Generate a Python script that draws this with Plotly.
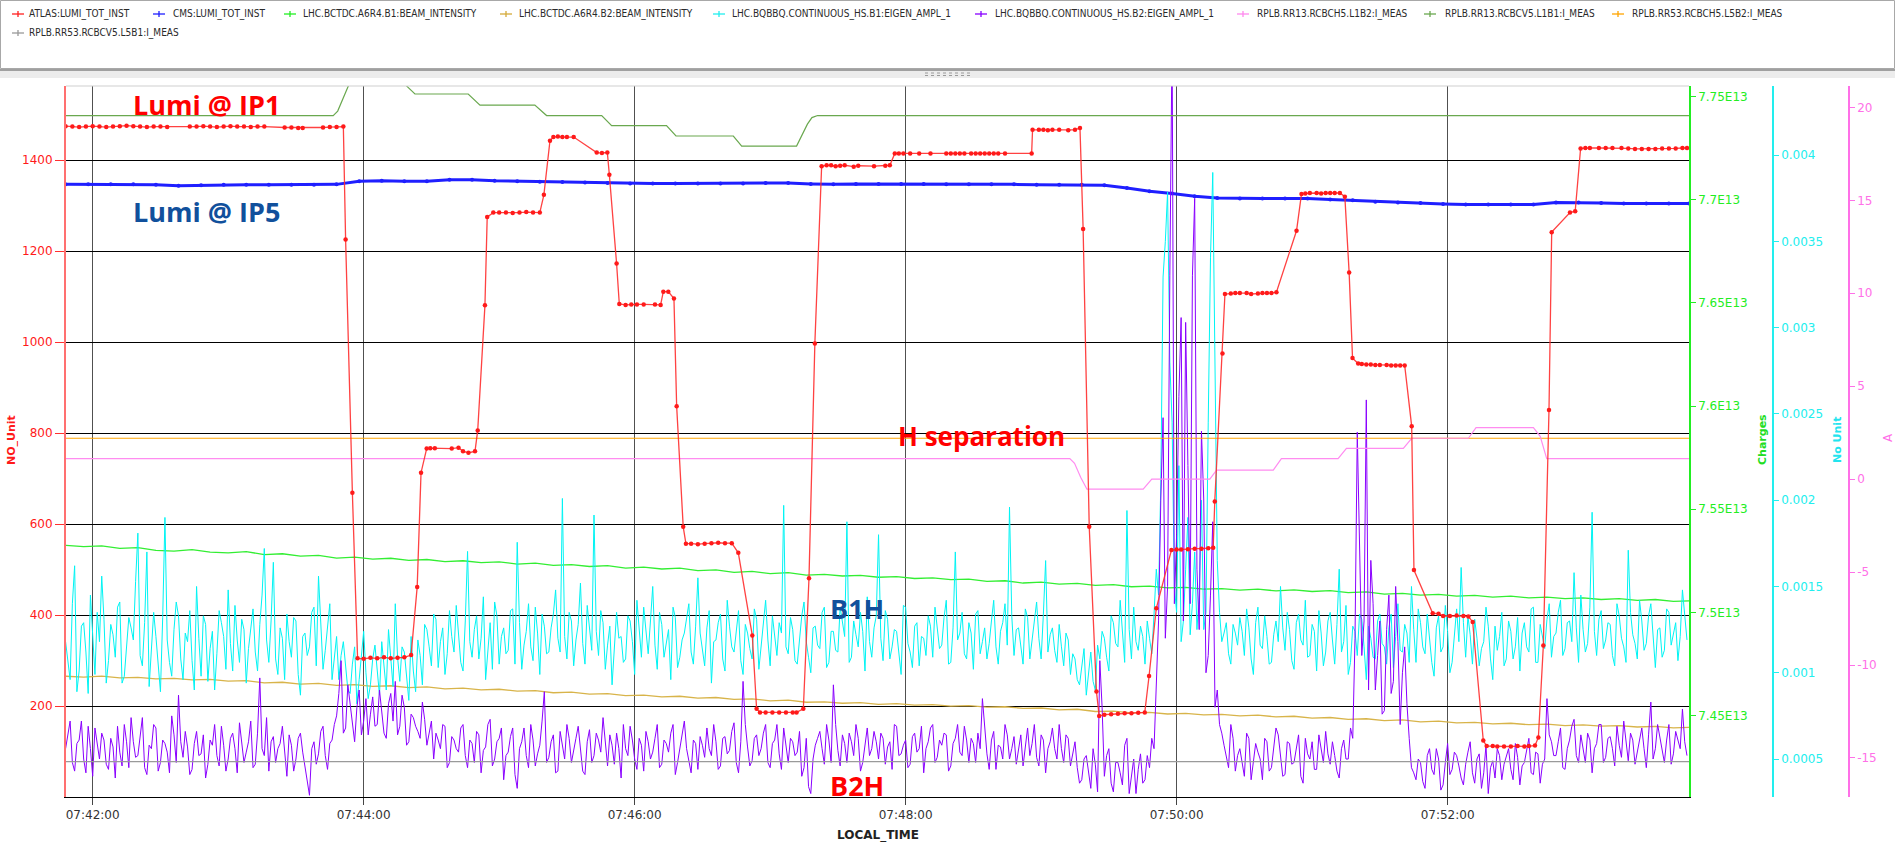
import numpy as np
import pandas as pd
import plotly.graph_objects as go

# ---------------------------------------------------------------- data
# time offsets are seconds relative to 07:42:00 local time
BASE = pd.Timestamp("2016-05-20 07:42:00")

ATLAS_LUMI = [
    (-12, 1475), (-9, 1474), (-6, 1473), (-3, 1474), (0, 1475), (3, 1474), (6, 1473), (9, 1474),
    (12, 1475), (15, 1476), (18, 1475), (21, 1474), (24, 1473), (27, 1474), (30, 1474), (33, 1473),
    (43, 1474), (46, 1474), (49, 1475), (52, 1474), (55, 1473), (58, 1474), (61, 1475), (64, 1474),
    (67, 1474), (70, 1473), (73, 1474), (76, 1474), (85, 1472), (88, 1472), (91, 1471), (93, 1471),
    (102, 1472), (105, 1473), (108, 1473), (111, 1474),
    (112, 1226), (115, 669), (117.3, 305), (120, 304), (123, 306), (126, 305), (129, 307), (132, 305),
    (135, 306), (138, 307), (141, 312),
    (143.7, 462), (145.4, 713), (147.9, 766), (149.5, 767), (151.5, 767), (159, 766), (162, 768),
    (164, 760), (166.4, 757), (169.3, 760),
    (170.5, 806), (173.7, 1081), (174.7, 1275), (177.4, 1285), (180, 1285), (183, 1285), (186, 1284),
    (189, 1285), (192, 1286), (195, 1285), (198, 1285),
    (199.8, 1324), (202.5, 1443), (204, 1451), (206, 1452), (208, 1451), (210, 1451), (213, 1451),
    (223.2, 1417), (225.5, 1416), (227.9, 1417),
    (228.8, 1368), (232, 1173), (233.2, 1084), (236, 1082), (238.5, 1083), (241, 1083), (244, 1083),
    (249, 1083), (251.5, 1082),
    (252.7, 1111), (254.9, 1111), (257.4, 1096), (258.6, 859), (261.5, 594), (262.7, 557), (265, 557),
    (268, 556), (271, 557), (274, 558), (277, 559), (280, 558), (283, 558),
    (285.9, 537), (292.1, 355), (294, 194), (295.5, 186), (298, 186), (301, 186), (304, 186),
    (307, 186), (310, 186), (311.7, 186),
    (314.7, 194), (317.2, 481), (319.8, 997), (322.8, 1387), (325, 1389), (327, 1389), (329, 1387),
    (331, 1388), (333, 1389), (337, 1386), (339, 1388), (346, 1387), (351, 1388), (353, 1389),
    (355.2, 1415), (357, 1415), (359, 1415), (362, 1415), (366, 1415), (371, 1415), (378, 1415),
    (380, 1415), (382, 1415), (384, 1415), (386, 1415), (389, 1415), (391, 1415), (393, 1415),
    (395, 1415), (397, 1415), (399, 1415), (401, 1415), (404, 1415), (415.8, 1415),
    (416.2, 1467), (419, 1467), (421, 1467), (423, 1466), (425, 1467), (428, 1467), (432, 1466),
    (435, 1467), (437.2, 1471),
    (438.6, 1249), (441.3, 594), (444.5, 232), (445.7, 178), (448, 181), (451, 182), (454, 183),
    (457, 184), (460, 184), (463, 185), (465.9, 186),
    (467.8, 266), (471, 415), (477.7, 543), (480, 544), (482, 544), (485, 545), (488, 546),
    (491, 546), (494, 547), (496.2, 548),
    (496.9, 650), (500.3, 975), (501.4, 1106), (504, 1107), (506, 1108), (508, 1108), (511, 1108),
    (513, 1106), (516, 1107), (518, 1108), (520, 1108), (522, 1108), (524.2, 1110),
    (533.1, 1245), (535.3, 1326), (537, 1327), (539, 1328), (542, 1328), (544, 1327), (546, 1328),
    (548, 1328), (550, 1328), (552.3, 1328),
    (554.5, 1320), (556.4, 1153), (557.9, 965), (560.4, 953), (562, 952), (564, 951), (566, 951),
    (568, 950), (570, 950), (573, 950), (575, 949), (577, 949), (579, 949), (581, 949),
    (584.1, 815), (585.1, 499), (593.4, 404), (596, 403), (598, 398), (601, 398), (604, 399),
    (607, 398), (609.2, 397),
    (611.1, 385), (615.8, 124), (617.3, 112), (620, 112), (622, 111), (625, 111), (628, 111),
    (631, 112), (634, 111), (636, 112), (638.7, 113),
    (640.2, 131), (642.4, 333), (644.9, 851), (646.1, 1242), (654.2, 1285), (656.5, 1288),
    (658.9, 1426), (661, 1427), (663, 1427), (667, 1427), (670, 1427), (673, 1427), (677, 1427),
    (680, 1426), (683, 1425), (686, 1425), (689, 1425), (692, 1425), (695, 1426), (698, 1426),
    (701, 1426), (704, 1427), (706, 1427),
]

CMS_LUMI = [
    (-12, 1347), (-2, 1347), (8, 1347), (18, 1347), (28, 1346), (38, 1344), (48, 1345), (58, 1346),
    (68, 1346), (78, 1346), (88, 1346), (98, 1346), (108, 1347), (118, 1354), (128, 1355),
    (138, 1354), (148, 1354), (158, 1357), (168, 1357), (178, 1355), (188, 1354), (198, 1353),
    (208, 1352), (218, 1351), (228, 1350), (238, 1349), (248, 1349), (258, 1349), (268, 1349),
    (278, 1349), (288, 1349), (298, 1350), (308, 1350), (318, 1348), (328, 1347), (338, 1348),
    (348, 1348), (358, 1348), (368, 1348), (378, 1347), (388, 1347), (398, 1347), (408, 1347),
    (418, 1346), (428, 1346), (438, 1346), (448, 1345), (458, 1339), (468, 1332), (478, 1327),
    (488, 1321), (498, 1317), (508, 1316), (518, 1316), (528, 1316), (538, 1316), (548, 1314),
    (558, 1312), (568, 1309), (578, 1307), (588, 1306), (598, 1304), (608, 1303), (618, 1303),
    (628, 1303), (638, 1303), (648, 1307), (658, 1307), (668, 1306), (678, 1305), (688, 1305),
    (698, 1305), (707, 1305),
]

# beam intensities, sampled every 8 s from -12 s, in units of 1E13 charges
INTENSITY_T0, INTENSITY_DT = -12, 8
B1_INTENSITY_E13 = [
    7.5325, 7.5318, 7.5322, 7.5310, 7.5314, 7.5300, 7.5297, 7.5304, 7.5292, 7.5288, 7.5294, 7.5280,
    7.5284, 7.5272, 7.5276, 7.5263, 7.5268, 7.5258, 7.5262, 7.5252, 7.5256, 7.5246, 7.5250, 7.5241,
    7.5245, 7.5234, 7.5238, 7.5228, 7.5231, 7.5222, 7.5226, 7.5214, 7.5219, 7.5210, 7.5214, 7.5202,
    7.5206, 7.5194, 7.5198, 7.5188, 7.5192, 7.5180, 7.5184, 7.5176, 7.5179, 7.5170, 7.5173, 7.5164,
    7.5167, 7.5158, 7.5161, 7.5150, 7.5153, 7.5142, 7.5146, 7.5137, 7.5140, 7.5131, 7.5134, 7.5124,
    7.5127, 7.5118, 7.5121, 7.5112, 7.5115, 7.5108, 7.5112, 7.5104, 7.5109, 7.5101, 7.5105, 7.5095,
    7.5099, 7.5088, 7.5092, 7.5083, 7.5087, 7.5078, 7.5082, 7.5074, 7.5078, 7.5070, 7.5074, 7.5066,
    7.5070, 7.5062, 7.5066, 7.5058, 7.5062, 7.5053, 7.5056,
]
B2_INTENSITY_E13 = [
    7.4690, 7.4686, 7.4691, 7.4682, 7.4685, 7.4677, 7.4680, 7.4672, 7.4675, 7.4666, 7.4669, 7.4658,
    7.4661, 7.4652, 7.4655, 7.4646, 7.4649, 7.4641, 7.4644, 7.4635, 7.4638, 7.4629, 7.4632, 7.4624,
    7.4627, 7.4618, 7.4620, 7.4610, 7.4613, 7.4603, 7.4606, 7.4596, 7.4598, 7.4590, 7.4593, 7.4584,
    7.4587, 7.4578, 7.4580, 7.4571, 7.4574, 7.4564, 7.4566, 7.4559, 7.4562, 7.4554, 7.4557, 7.4550,
    7.4552, 7.4545, 7.4548, 7.4540, 7.4542, 7.4534, 7.4536, 7.4527, 7.4530, 7.4519, 7.4521, 7.4512,
    7.4515, 7.4507, 7.4510, 7.4503, 7.4505, 7.4498, 7.4501, 7.4493, 7.4496, 7.4487, 7.4490, 7.4481,
    7.4484, 7.4475, 7.4478, 7.4469, 7.4472, 7.4464, 7.4466, 7.4459, 7.4462, 7.4455, 7.4458, 7.4451,
    7.4454, 7.4448, 7.4451, 7.4444, 7.4447, 7.4440, 7.4442,
]

# BBQ eigen-amplitudes in units of 1E-6: even seconds from -12 s, odd seconds from -11 s
BBQ_T0 = -12
B1H_AMPL_EVEN_U = [
    1180, 960, 1620, 1010, 1290, 880, 1230, 1350, 1560, 940,
    1280, 1090, 1410, 980, 1320, 1190, 1809, 1040, 1700, 1120,
    1210, 890, 1900, 1060, 1250, 1330, 960, 1180, 1070, 1500,
    980, 1280, 1140, 900, 1360, 1210, 1480, 1010, 1190, 1310,
    940, 1250, 1120, 1280, 1720, 1060, 1640, 990, 1200, 1340,
    1090, 1300, 870, 1230, 1150, 1380, 1560, 1020, 1270, 960,
    1210, 1100, 1030, 880, 1150, 960, 1240, 850, 1080, 990,
    1180, 900, 1060, 1400, 950, 1120, 840, 1010, 1190, 930,
    1250, 1040, 1310, 1180, 990, 1360, 1120, 1230, 1010, 1703,
    1090, 1330, 1200, 960, 1290, 1410, 1050, 1260, 1130, 1370,
    1756, 1020, 1240, 1150, 1380, 990, 1270, 1120, 1340, 1200,
    2010, 1080, 1300, 1190, 1520, 1050, 1250, 1914, 1100, 1290,
    1160, 930, 1350, 1210, 1080, 1300, 990, 1240, 1380, 1110,
    1500, 1020, 1280, 1170, 960, 1320, 1090, 1230, 1400, 1050,
    1550, 1130, 1260, 940, 1190, 1340, 1010, 1270, 1120, 1360,
    990, 1230, 1080, 1310, 1150, 1420, 1040, 1200, 1290, 1970,
    1110, 1250, 1050, 1330, 1180, 1000, 1270, 1140, 1380, 1060,
    1240, 1120, 1300, 1875, 1090, 1220, 1350, 1010, 1180, 1260,
    1800, 1070, 1310, 1150, 1240, 990, 1380, 1120, 1270, 1040,
    1200, 1330, 1090, 1250, 1160, 1420, 1060, 1700, 1230, 1110,
    1290, 1020, 1360, 1180, 1080, 1300, 1150, 1240, 1400, 1960,
    1100, 1260, 1050, 1320, 1190, 1410, 1080, 1650, 1220, 1130,
    1280, 1040, 1190, 1110, 960, 1050, 870, 1120, 900, 1080,
    1200, 1010, 1290, 1150, 1230, 1940, 1080, 1180, 1270, 1050,
    1200, 1340, 1450, 3293, 3786, 2452, 1350, 1180, 1600, 1220,
    1700, 1450, 1250, 2452, 3899, 1650, 1180, 1290, 1050, 1230,
    1320, 1100, 1260, 990, 1380, 1140, 1210, 1060, 1300, 1500,
    1130, 1250, 1020, 1340, 1160, 1090, 1280, 1010, 1230, 1120,
    1350, 1050, 1600, 1180, 990, 1270, 1100, 1310, 960, 1200,
    1080, 1340, 1150, 1260, 1030, 1400, 1120, 1230, 1500, 1060,
    1290, 1110, 1200, 980, 1330, 1150, 1240, 1060, 1370, 1610,
    1090, 1220, 1310, 1040, 1180, 1270, 960, 1130, 1350, 1080,
    1240, 1150, 1010, 1290, 1120, 1380, 1060, 1200, 1310, 1090,
    1230, 1420, 1140, 1300, 1580, 1060, 1250, 1170, 1930, 1100,
    1360, 1190, 1280, 1040, 1330, 1150, 1710, 1220, 1080, 1300,
    1170, 1400, 1030, 1260, 1130, 1350, 1220, 1070, 1480, 1190,
]
B1H_AMPL_ODD_U = [
    1050, 1400, 890, 1270, 1120, 1450, 990, 1180, 1310, 1070,
    1220, 1380, 940, 1150, 1260, 1530, 1100, 1290, 920, 1350,
    1040, 1320, 1190, 980, 1410, 1080, 1230, 1360, 900, 1200,
    1330, 950, 1240, 1110, 1290, 1020, 1170, 1390, 1060, 1250,
    1140, 1370, 1010, 1450, 1190, 1300, 1080, 1260, 960, 1180,
    1320, 990, 1210, 1100, 1350, 1040, 1240, 1130, 1400, 1070,
    960, 1180, 900, 1050, 820, 1120, 1000, 930, 1160, 870,
    1040, 1250, 920, 1090, 1150, 980, 1210, 890, 1100, 1280,
    1150, 1340, 1030, 1260, 1110, 1210, 1390, 1060, 1300, 1180,
    1250, 1080, 1440, 1150, 1020, 1330, 1210, 1110, 1360, 1050,
    1290, 1160, 1400, 1070, 1230, 1340, 1110, 1260, 1480, 1120,
    1210, 1350, 1040, 1280, 1170, 1390, 1130, 1240, 1360, 1020,
    1270, 1130, 1200, 1060, 1330, 1180, 1420, 1090, 1240, 1300,
    1160, 1350, 1090, 1250, 1380, 1030, 1190, 1320, 1120, 1270,
    1230, 1040, 1360, 1180, 1290, 1080, 1420, 1150, 1250, 1070,
    1280, 1140, 1370, 1020, 1260, 1190, 1330, 1100, 1230, 1150,
    1320, 1070, 1200, 1410, 1090, 1260, 1160, 1350, 1030, 1240,
    1130, 1380, 1210, 1060, 1300, 1150, 1240, 1440, 1090, 1330,
    1200, 1360, 1080, 1250, 1120, 1390, 1170, 1030, 1290, 1210,
    1100, 1270, 1380, 1140, 1320, 1050, 1260, 1190, 1350, 1080,
    1230, 1340, 1110, 1260, 1170, 1420, 1050, 1290, 1160, 1330,
    1250, 1140, 1370, 1080, 1280, 1200, 1340, 1120, 1260, 1060,
    1150, 1230, 990, 1080, 930, 1140, 1010, 950, 1160, 1240,
    1090, 1330, 1170, 1420, 1060, 1250, 1380, 1130, 1210, 1300,
    1110, 1600, 2100, 3500, 2800, 1500, 2200, 1300, 1900, 1400,
    1250, 2000, 1350, 3404, 2600, 1350, 1230, 1110, 1280, 1160,
    1240, 1370, 1080, 1290, 1160, 1330, 1050, 1220, 1180, 1260,
    1350, 1070, 1290, 1190, 1420, 1100, 1240, 1360, 1040, 1300,
    1190, 1280, 1120, 1390, 1060, 1240, 1340, 1150, 1270, 1090,
    1300, 1170, 1050, 1340, 1210, 1130, 1280, 1060, 1250, 1370,
    1150, 1340, 1060, 1260, 1120, 1390, 1000, 1230, 1180, 1290,
    1330, 1050, 1200, 1140, 1380, 1080, 1270, 1210, 1040, 1300,
    1080, 1320, 1230, 1150, 1370, 1060, 1280, 1140, 1400, 1210,
    1350, 1100, 1290, 1180, 1260, 1450, 1120, 1380, 1240, 1310,
    1140, 1290, 1100, 1400, 1200, 1060, 1350, 1170, 1420, 1130,
    1330, 1180, 1250, 1090, 1370, 1160, 1290, 1210, 1340,
]
B2H_AMPL_EVEN_U = [
    560, 720, 430, 610, 500, 690, 400, 580, 650, 470,
    620, 390, 540, 700, 450, 600, 520, 740, 410, 560,
    680, 480, 590, 420, 640, 870, 510, 570, 440, 660,
    530, 390, 610, 700, 460, 580, 500, 650, 420, 600,
    540, 720, 470, 970, 520, 430, 630, 560, 690, 400,
    580, 500, 650, 450, 290, 600, 530, 690, 440, 610,
    750, 1070, 680, 820, 600, 900, 720, 640, 860, 700,
    780, 620, 880, 950, 690, 800, 600, 740, 660, 830,
    580, 720, 650, 560, 690, 480, 610, 540, 700, 450,
    590, 660, 420, 570, 730, 500, 620, 380, 540, 680,
    330, 600, 520, 700, 460, 580, 890, 510, 640, 430,
    590, 700, 480, 620, 550, 410, 670, 520, 610, 740,
    460, 580, 650, 390, 560, 690, 500, 620, 430, 600,
    540, 700, 470, 590, 650, 410, 560, 720, 500, 610,
    440, 580, 680, 520, 600, 460, 630, 550, 710, 420,
    950, 570, 490, 640, 560, 700, 450, 610, 530, 680,
    480, 600, 540, 400, 620, 300, 580, 660, 470, 610,
    930, 550, 640, 480, 600, 700, 430, 580, 520, 660,
    500, 620, 570, 440, 690, 530, 610, 470, 650, 560,
    420, 600, 700, 510, 580, 640, 460, 620, 540, 690,
    480, 590, 650, 850, 530, 610, 440, 570, 700, 500,
    630, 550, 460, 680, 590, 510, 640, 420, 600, 560,
    700, 480, 620, 530, 450, 380, 520, 330, 470, 1070,
    400, 560, 310, 480, 350, 620, 420, 300, 530, 380,
    450, 560, 1300, 2478, 1500, 4700, 1800, 3058, 3030, 1400,
    3749, 1250, 2007, 1100, 1875, 900, 650, 520, 700, 430,
    560, 400, 620, 470, 540, 380, 600, 450, 680, 520,
    410, 590, 480, 640, 360, 530, 600, 440, 570, 660,
    470, 520, 390, 610, 500, 620, 2394, 1100, 2581, 1651,
    900, 1300, 780, 1450, 950, 1180, 1000, 820, 450, 380,
    480, 330, 560, 410, 500, 350, 590, 440, 520, 390,
    470, 600, 360, 530, 420, 300, 490, 560, 380, 510,
    440, 590, 350, 480, 620, 410, 530, 470, 850, 600,
    520, 680, 440, 610, 730, 480, 570, 650, 420, 590,
    700, 510, 630, 460, 580, 720, 490, 610, 540, 680,
    450, 830, 560, 620, 480, 700, 530, 600, 790, 520,
]
B2H_AMPL_ODD_U = [
    640, 480, 590, 720, 420, 560, 680, 500, 610, 440,
    570, 690, 460, 600, 740, 510, 630, 450, 580, 700,
    430, 610, 540, 750, 480, 600, 660, 410, 590, 520,
    640, 470, 580, 520, 690, 430, 620, 560, 710, 480,
    600, 450, 650, 560, 740, 600, 480, 590, 520, 640,
    430, 620, 540, 380, 560, 470, 660, 520, 590, 700,
    880, 650, 930, 720, 800, 640, 850, 760, 690, 900,
    650, 820, 720, 640, 870, 580, 760, 690, 620, 730,
    650, 500, 610, 700, 450, 630, 560, 680, 520, 610,
    480, 640, 550, 700, 460, 600, 680, 520, 630, 410,
    560, 680, 450, 610, 530, 720, 480, 600, 420, 660,
    500, 620, 560, 690, 430, 600, 480, 650, 540, 580,
    640, 470, 560, 700, 520, 610, 440, 580, 660, 500,
    620, 450, 610, 540, 700, 480, 650, 560, 420, 590,
    630, 510, 560, 700, 440, 620, 530, 660, 480, 600,
    700, 460, 620, 520, 650, 480, 590, 700, 440, 570,
    620, 520, 660, 450, 340, 500, 620, 560, 700, 480,
    700, 460, 590, 650, 520, 620, 480, 680, 560, 600,
    650, 470, 600, 700, 520, 580, 450, 630, 540, 690,
    560, 680, 480, 610, 650, 430, 590, 700, 520, 610,
    620, 480, 560, 700, 440, 660, 580, 500, 640, 560,
    470, 640, 580, 520, 700, 460, 610, 560, 680, 500,
    560, 640, 460, 600, 360, 500, 420, 560, 310, 800,
    520, 360, 480, 420, 580, 300, 500, 440, 360, 520,
    620, 900, 2000, 1200, 3300, 1400, 2600, 1300, 2200, 3300,
    1600, 2400, 1000, 1450, 800, 700, 580, 450, 620, 520,
    480, 650, 380, 590, 500, 620, 430, 560, 640, 400,
    600, 470, 550, 400, 620, 500, 440, 640, 480, 530,
    600, 430, 560, 500, 680, 1200, 1800, 1300, 900, 1400,
    1100, 760, 1250, 880, 1500, 700, 1150, 620, 420, 500,
    370, 520, 440, 560, 320, 480, 410, 540, 460, 350,
    540, 420, 500, 330, 580, 450, 390, 520, 470, 560,
    380, 510, 460, 560, 420, 540, 360, 500, 640, 520,
    600, 450, 560, 690, 520, 640, 480, 610, 560, 700,
    480, 620, 560, 690, 510, 600, 650, 470, 620, 560,
    640, 500, 700, 540, 610, 470, 660, 560, 600,
]

# corrector currents in A
RR13_H_L1B2 = [
    (-12, 1.1), (432.7, 1.1), (434.8, 0.85), (437.5, 0.1), (440.3, -0.54), (465.2, -0.54),
    (469, 0.0), (494.7, 0.0), (497.7, 0.49), (522.8, 0.49), (526.4, 1.1), (551.5, 1.1),
    (555.2, 1.65), (580.4, 1.65), (584.1, 2.2), (609.2, 2.2), (612.6, 2.77), (638, 2.77),
    (641, 2.3), (643.9, 1.1), (707, 1.1),
]
RR13_V_L1B1 = [
    (-12, 19.56), (106.5, 19.56), (108.5, 19.8), (113.2, 21.15), (116, 21.6), (137, 21.6),
    (139, 21.15), (142.7, 20.72), (166.3, 20.72), (171.5, 20.12), (195.8, 20.12), (201, 19.56),
    (225.4, 19.56), (229.8, 19.02), (254.1, 19.02), (258.3, 18.46), (283.7, 18.46), (287.4, 17.92),
    (311.7, 17.92), (314, 18.45), (316.5, 19.1), (318.5, 19.45), (321, 19.56), (707, 19.56),
]
RR53_H_L5B2 = [(-12, 2.2), (707, 2.2)]
RR53_V_L5B1 = [(-12, -15.2), (707, -15.2)]

LEFT_TICKS = [200, 400, 600, 800, 1000, 1200, 1400]
CHARGE_TICKS = [7.45e13, 7.5e13, 7.55e13, 7.6e13, 7.65e13, 7.7e13, 7.75e13]
CHARGE_LABELS = ["7.45E13", "7.5E13", "7.55E13", "7.6E13", "7.65E13", "7.7E13", "7.75E13"]
AMPL_TICKS = [0.0005, 0.001, 0.0015, 0.002, 0.0025, 0.003, 0.0035, 0.004]
AMPL_LABELS = ["0.0005", "0.001", "0.0015", "0.002", "0.0025", "0.003", "0.0035", "0.004"]
AMP_TICKS = [-15, -10, -5, 0, 5, 10, 15, 20]
AMP_LABELS = ["-15", "-10", "-5", "0", "5", "10", "15", "20"]

LEGEND = [
    ("ATLAS:LUMI_TOT_INST", "#ff2020", 18, 27, 14),
    ("CMS:LUMI_TOT_INST", "#2020ff", 159, 171, 14),
    ("LHC.BCTDC.A6R4.B1:BEAM_INTENSITY", "#22ee22", 290, 301, 14),
    ("LHC.BCTDC.A6R4.B2:BEAM_INTENSITY", "#d4aa3a", 506, 517, 14),
    ("LHC.BQBBQ.CONTINUOUS_HS.B1:EIGEN_AMPL_1", "#22eeee", 719, 730, 14),
    ("LHC.BQBBQ.CONTINUOUS_HS.B2:EIGEN_AMPL_1", "#8800ff", 981, 993, 14),
    ("RPLB.RR13.RCBCH5.L1B2:I_MEAS", "#ff88ee", 1243, 1255, 14),
    ("RPLB.RR13.RCBCV5.L1B1:I_MEAS", "#6aa84f", 1430, 1443, 14),
    ("RPLB.RR53.RCBCH5.L5B2:I_MEAS", "#ffa500", 1618, 1630, 14),
    ("RPLB.RR53.RCBCV5.L5B1:I_MEAS", "#999999", 18, 27, 33),
]

# ---------------------------------------------------------------- helpers
def at(sec):
    return BASE + pd.to_timedelta(np.asarray(sec, dtype=float), unit="s")


def unzip(pairs):
    t, v = zip(*pairs)
    return at(t), list(v)


def merge_samples(even, odd, t0):
    """Interleave the even- and odd-second samples into one time-ordered series."""
    t = np.concatenate([t0 + 2 * np.arange(len(even)), t0 + 1 + 2 * np.arange(len(odd))])
    v = np.concatenate([np.asarray(even, float), np.asarray(odd, float)])
    order = np.argsort(t, kind="stable")
    return at(t[order]), v[order] * 1e-6


W, H = 1895, 842
ML, MR, MT, MB = 66, 30, 86, 45
PW = W - ML - MR
PH = H - MT - MB
X_END = 1689


def px(x):
    return (x - ML) / PW


def py(y):
    return (H - MB - y) / PH


TICK_FONT = "DejaVu Sans"
LEFT_RANGE = [0, 1563.3]

fig = go.Figure()

# CMS luminosity (left axis)
t, v = unzip(CMS_LUMI)
fig.add_trace(go.Scatter(x=t, y=v, yaxis="y", mode="lines+markers",
                         line=dict(color="#1f1fff", width=3),
                         marker=dict(size=4, color="#1f1fff"), name="CMS:LUMI_TOT_INST"))

# beam intensities (Charges axis)
ti = at(INTENSITY_T0 + INTENSITY_DT * np.arange(len(B1_INTENSITY_E13)))
fig.add_trace(go.Scatter(x=ti, y=np.array(B1_INTENSITY_E13) * 1e13, yaxis="y2", mode="lines",
                         line=dict(color="#33ee33", width=1.3), name="B1 intensity"))
ti = at(INTENSITY_T0 + INTENSITY_DT * np.arange(len(B2_INTENSITY_E13)))
fig.add_trace(go.Scatter(x=ti, y=np.array(B2_INTENSITY_E13) * 1e13, yaxis="y2", mode="lines",
                         line=dict(color="#d8b44a", width=1.3), name="B2 intensity"))

# BBQ amplitudes (No Unit axis)
tb, vb = merge_samples(B1H_AMPL_EVEN_U, B1H_AMPL_ODD_U, BBQ_T0)
fig.add_trace(go.Scatter(x=tb, y=vb, yaxis="y3", mode="lines",
                         line=dict(color="#00f4f4", width=1), name="B1H"))
tb, vb = merge_samples(B2H_AMPL_EVEN_U, B2H_AMPL_ODD_U, BBQ_T0)
fig.add_trace(go.Scatter(x=tb, y=vb, yaxis="y3", mode="lines",
                         line=dict(color="#8a00ff", width=1), name="B2H"))

# corrector currents (A axis)
for pairs, color in [(RR13_V_L1B1, "#6aa84f"), (RR53_H_L5B2, "#ffa500"),
                     (RR53_V_L5B1, "#9a9a9a"), (RR13_H_L1B2, "#ff8cf0")]:
    t, v = unzip(pairs)
    fig.add_trace(go.Scatter(x=t, y=v, yaxis="y4", mode="lines",
                             line=dict(color=color, width=1.2)))

# ATLAS luminosity drawn last so it stays on top
t, v = unzip(ATLAS_LUMI)
fig.add_trace(go.Scatter(x=t, y=v, yaxis="y5", mode="lines+markers",
                         line=dict(color="rgba(255,45,45,0.9)", width=1.3),
                         marker=dict(size=4.5, color="#ff1a1a"), name="ATLAS:LUMI_TOT_INST"))

tick_font = lambda c: dict(family=TICK_FONT, size=12, color=c)

fig.update_layout(
    width=W, height=H,
    margin=dict(l=ML, r=MR, t=MT, b=MB),
    paper_bgcolor="white", plot_bgcolor="white",
    showlegend=False,
    xaxis=dict(
        domain=[0, px(X_END)], type="date",
        range=[at(-11.82).isoformat(), at(706.9).isoformat()],
        tick0=at(0).isoformat(), dtick=120000, tickformat="%H:%M:%S",
        showgrid=True, gridcolor="#505050", gridwidth=1.2,
        ticks="outside", ticklen=7, tickcolor="#444", tickwidth=1,
        showline=True, linecolor="black", linewidth=1,
        tickfont=tick_font("#333"), zeroline=False,
    ),
    yaxis=dict(
        range=LEFT_RANGE, tickvals=LEFT_TICKS,
        showgrid=True, gridcolor="black", gridwidth=1,
        showline=True, linecolor="#ff7070", linewidth=2,
        ticks="outside", ticklen=9, tickcolor="#ff3030",
        tickfont=tick_font("#ff1a1a"), zeroline=False,
    ),
    yaxis2=dict(
        overlaying="y", side="right", anchor="x",
        range=[7.41045e13, 7.75519e13], tickvals=CHARGE_TICKS, ticktext=CHARGE_LABELS,
        showgrid=False, showline=True, linecolor="#22ee22", linewidth=1.5,
        ticks="outside", ticklen=5, tickcolor="#22ee22",
        tickfont=tick_font("#22ee22"), zeroline=False,
    ),
    yaxis3=dict(
        overlaying="y", side="right", anchor="free", position=px(1773),
        range=[0.00028, 0.0044], tickvals=AMPL_TICKS, ticktext=AMPL_LABELS,
        showgrid=False, showline=True, linecolor="#22eeee", linewidth=1.5,
        ticks="outside", ticklen=5, tickcolor="#22eeee",
        tickfont=tick_font("#22eeee"), zeroline=False,
    ),
    yaxis4=dict(
        overlaying="y", side="right", anchor="free", position=px(1849),
        range=[-17.1, 21.15], tickvals=AMP_TICKS, ticktext=AMP_LABELS,
        showgrid=False, showline=True, linecolor="#ff70e8", linewidth=1.5,
        ticks="outside", ticklen=5, tickcolor="#ff70e8",
        tickfont=tick_font("#ff70e8"), zeroline=False,
    ),
    yaxis5=dict(overlaying="y", range=LEFT_RANGE, visible=False),
)

shapes = [
    # legend panel frame and splitter
    dict(type="rect", xref="paper", yref="paper", x0=px(0.5), x1=px(1894.5), y0=py(68.5), y1=py(0.5),
         line=dict(color="#a8a8a8", width=1), fillcolor="rgba(0,0,0,0)", layer="above"),
    dict(type="rect", xref="paper", yref="paper", x0=px(0), x1=px(1895), y0=py(78), y1=py(69.5),
         line=dict(width=0), fillcolor="#ececec", layer="above"),
    dict(type="line", xref="paper", yref="paper", x0=px(0), x1=px(1895), y0=py(70), y1=py(70),
         line=dict(color="#a0a0a0", width=2), layer="above"),
    dict(type="line", xref="paper", yref="paper", x0=px(925), x1=px(972), y0=py(73), y1=py(73),
         line=dict(color="#9a9a9a", width=1, dash="dot"), layer="above"),
    dict(type="line", xref="paper", yref="paper", x0=px(925), x1=px(972), y0=py(75.5), y1=py(75.5),
         line=dict(color="#9a9a9a", width=1, dash="dot"), layer="above"),
    # light frame on top of the plot area
    dict(type="line", xref="paper", yref="paper", x0=px(ML), x1=px(X_END), y0=1, y1=1,
         line=dict(color="#cfcfcf", width=1), layer="above"),
]

annotations = []
for label, color, mx, tx, ry in LEGEND:
    shapes.append(dict(type="line", xref="paper", yref="paper", x0=px(mx - 6), x1=px(mx + 6),
                       y0=py(ry), y1=py(ry), line=dict(color=color, width=1.3)))
    shapes.append(dict(type="line", xref="paper", yref="paper", x0=px(mx), x1=px(mx),
                       y0=py(ry - 3), y1=py(ry + 3), line=dict(color=color, width=1.3)))
    annotations.append(dict(xref="paper", yref="paper", x=px(tx), y=py(ry), text=label,
                            showarrow=False, xanchor="left", yanchor="middle",
                            font=dict(family="DejaVu Sans Condensed, DejaVu Sans", size=10,
                                      color="#2a2a2a")))

title_font = lambda c, s=11: dict(family="DejaVu Sans", size=s, color=c, weight="bold")
for text, x, y, color in [("NO_Unit", 11, 440, "#ff1a1a"), ("Charges", 1762, 440, "#22dd22"),
                          ("No Unit", 1837, 440, "#22e4ee")]:
    annotations.append(dict(xref="paper", yref="paper", x=px(x), y=py(y), text=text, textangle=-90,
                            showarrow=False, xanchor="center", yanchor="middle",
                            font=title_font(color)))
annotations.append(dict(xref="paper", yref="paper", x=px(1888), y=py(438), text="A", textangle=-90,
                        showarrow=False, xanchor="center", yanchor="middle",
                        font=dict(family="DejaVu Sans", size=12, color="#ff70e8")))
annotations.append(dict(xref="paper", yref="paper", x=px(878), y=py(835), text="LOCAL_TIME",
                        showarrow=False, xanchor="center", yanchor="middle",
                        font=title_font("#222222", 12)))

big = lambda c, s=27: dict(family="Open Sans", size=s, color=c, weight="bold")
for text, x, y, color, size in [
    ("Lumi @ IP1", 206.7, 104, "#ff0000", 27),
    ("Lumi @ IP5", 206.7, 212, "#11509c", 27),
    ("H separation", 981.7, 436, "#ff0000", 26),
    ("B1H", 857, 608, "#11509c", 27),
    ("B2H", 857, 785, "#ff0000", 27),
]:
    annotations.append(dict(xref="paper", yref="paper", x=px(x), y=py(y), text=text,
                            showarrow=False, xanchor="center", yanchor="middle", font=big(color, size)))

fig.update_layout(shapes=shapes, annotations=annotations)
fig.write_html("out.html")
